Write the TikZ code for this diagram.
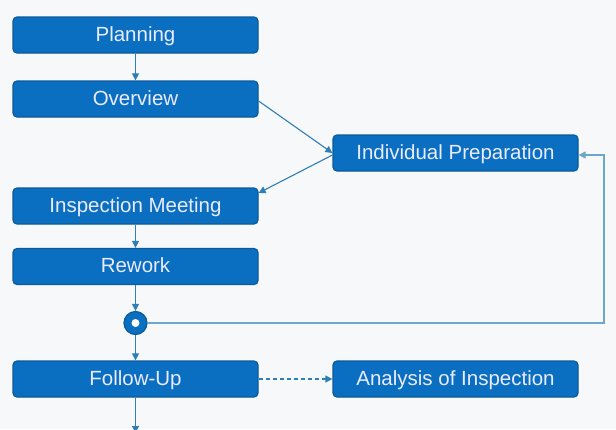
\documentclass[tikz,border=0pt]{standalone}
\usepackage{fontspec}
\setmainfont{Liberation Sans}
\usetikzlibrary{arrows.meta}
\definecolor{boxfill}{HTML}{0A6FC0}
\definecolor{boxline}{HTML}{0B5A9A}
\definecolor{conn}{HTML}{2E7FB5}
\definecolor{fb}{HTML}{7FA9C4}
\definecolor{bg}{HTML}{F7F8FA}
\begin{document}
\begin{tikzpicture}[x=1pt,y=-1pt,
  proc/.style={draw=boxline,line width=1.2pt,fill=boxfill,rounded corners=4pt,
    minimum width=245pt,minimum height=36pt,inner sep=0pt,text=white!92!blue,
    text height=15pt,text depth=3pt,
    font=\fontsize{20.5}{24}\selectfont},
  conn/.style={draw=conn,line width=1.1pt,-{Triangle[length=7pt,width=7pt]}},
  ]
\fill[bg] (0,0) rectangle (616,429);
\useasboundingbox (0,0) rectangle (616,429);
\node[proc] (plan) at (135.5,35) {Planning};
\node[proc] (over) at (135.5,99) {Overview};
\node[proc] (prep) at (455.5,153) {Individual Preparation};
\node[proc] (meet) at (135.5,206) {Inspection Meeting};
\node[proc] (rew) at (135.5,266.5) {Rework};
\node[circle,draw=boxline,fill=boxfill,line width=1.2pt,minimum size=23pt,inner sep=0pt] (merge) at (135.5,323) {};
\node[circle,fill=white,minimum size=8pt,inner sep=0pt] at (merge) {};
\node[proc] (fol) at (135.5,379) {Follow-Up};
\node[proc] (ana) at (455.5,379) {Analysis of Inspection};
\coordinate (down) at (135.5,433);
\draw[conn] (plan) -- (over);
\draw[conn] (over.east) ++(0,2) coordinate (o1) -- (prep.west);
\draw[conn] (prep.west) ++(0,2) coordinate (p1) -- (meet.north east |- 0,193) coordinate (m1);
\draw[conn] (meet) -- (rew);
\draw[conn] (rew) -- (merge);
\draw[conn] (merge) -- (fol);
\draw[line width=1.1pt,-{Triangle[length=7pt,width=7pt]},draw=conn!70!white] (merge.east) -- (604,323) -- (604,155) -- (prep.east |- 0,155);
\draw[conn,dashed,dash pattern=on 4pt off 3pt] (fol) -- (ana);
\draw[conn] (fol.south) -- (down);
\end{tikzpicture}
\end{document}
